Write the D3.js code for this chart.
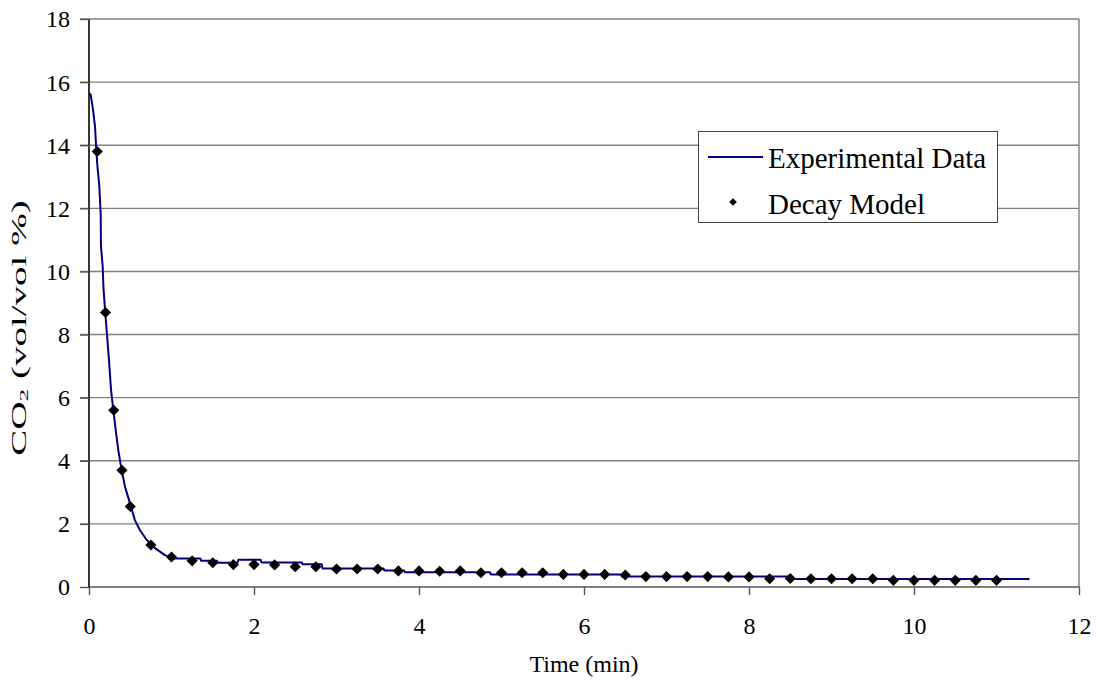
<!DOCTYPE html>
<html>
<head>
<meta charset="utf-8">
<script src="https://cdn.jsdelivr.net/npm/d3@7"></script>
<style>
  html, body { margin: 0; padding: 0; background: #fff; }
  svg { display: block; }
  text { font-family: "Liberation Serif", "Times New Roman", serif; fill: #000; }
</style>
</head>
<body>
<svg id="chart" width="1097" height="681"></svg>
<script>
// Measured CO2 concentration (time in min, CO2 in vol/vol %)
const expTime = [0, 0.02, 0.045, 0.073, 0.085, 0.10, 0.125, 0.142, 0.145, 0.166, 0.175, 0.194, 0.215, 0.242, 0.267, 0.295, 0.324, 0.355, 0.396, 0.436, 0.497, 0.556, 0.618, 0.70, 0.80, 0.92, 1.02, 1.35, 1.36, 1.55, 1.56, 1.80, 1.81, 2.08, 2.09, 2.58, 2.59, 2.82, 2.83, 3.57, 3.58, 3.82, 3.83, 4.86, 4.87, 6.45, 6.46, 8.50, 8.51, 11.4];
const expCO2  = [15.65, 15.6, 15.2, 14.6, 14.0, 13.4, 12.7, 11.8, 10.8, 10.15, 9.5, 8.8, 8.1, 7.2, 6.25, 5.6, 4.97, 4.34, 3.7, 3.18, 2.65, 2.12, 1.8, 1.49, 1.23, 1.01, 0.90, 0.90, 0.83, 0.83, 0.77, 0.77, 0.86, 0.86, 0.78, 0.78, 0.72, 0.72, 0.59, 0.59, 0.52, 0.52, 0.47, 0.47, 0.40, 0.40, 0.33, 0.33, 0.25, 0.25];

// Decay model predictions
const modelTime = [0.1, 0.2, 0.3, 0.4, 0.5, 0.75, 1.0, 1.25, 1.5, 1.75, 2.0, 2.25, 2.5, 2.75, 3.0, 3.25, 3.5, 3.75, 4.0, 4.25, 4.5, 4.75, 5.0, 5.25, 5.5, 5.75, 6.0, 6.25, 6.5, 6.75, 7.0, 7.25, 7.5, 7.75, 8.0, 8.25, 8.5, 8.75, 9.0, 9.25, 9.5, 9.75, 10.0, 10.25, 10.5, 10.75, 11.0];
const modelCO2  = [13.8, 8.7, 5.6, 3.7, 2.55, 1.33, 0.95, 0.83, 0.77, 0.71, 0.71, 0.70, 0.64, 0.64, 0.57, 0.57, 0.57, 0.51, 0.51, 0.50, 0.51, 0.45, 0.45, 0.45, 0.45, 0.40, 0.40, 0.40, 0.38, 0.33, 0.33, 0.33, 0.33, 0.32, 0.32, 0.26, 0.27, 0.26, 0.26, 0.26, 0.26, 0.21, 0.21, 0.21, 0.21, 0.21, 0.21];

const xTicks = [0, 2, 4, 6, 8, 10, 12];
const yTicks = [0, 2, 4, 6, 8, 10, 12, 14, 16, 18];
const seriesNames = ["Experimental Data", "Decay Model"];

const svg = d3.select("#chart");
const plotL = 89, plotR = 1079, plotT = 19, plotB = 587;

const x = d3.scaleLinear().domain([0, 12]).range([plotL, plotR]);
const y = d3.scaleLinear().domain([0, 18]).range([plotB, plotT]);

// horizontal gridlines (extend through tick area)
svg.append("g").selectAll("line").data(yTicks.filter(d => d > 0)).join("line")
  .attr("x1", plotL - 9).attr("x2", plotR)
  .attr("y1", d => y(d)).attr("y2", d => y(d))
  .attr("stroke", "#808080").attr("stroke-width", 1.4);

// right border of plot area
svg.append("line").attr("x1", plotR).attr("x2", plotR).attr("y1", plotT).attr("y2", plotB)
  .attr("stroke", "#808080").attr("stroke-width", 1.4);

// x axis
const xAxis = svg.append("g").attr("transform", `translate(0,${plotB})`)
  .call(d3.axisBottom(x).tickValues(xTicks).tickSize(8).tickPadding(0).tickFormat(d3.format("d")));
xAxis.select(".domain").attr("stroke", "#555").attr("stroke-width", 1.6).attr("d", `M${plotL},0H${plotR}`);
xAxis.selectAll(".tick line").attr("stroke", "#555").attr("stroke-width", 1.4);
xAxis.selectAll(".tick text").attr("font-size", 24).attr("font-family", "Liberation Serif, Times New Roman, serif")
  .attr("fill", "#000").attr("dy", null).attr("y", 47);

// y axis
const yAxis = svg.append("g").attr("transform", `translate(${plotL},0)`)
  .call(d3.axisLeft(y).tickValues(yTicks).tickSize(9).tickPadding(0).tickFormat(d3.format("d")));
yAxis.select(".domain").attr("stroke", "#222").attr("stroke-width", 1.8).attr("d", `M0,${plotT}V${plotB}`);
yAxis.selectAll(".tick line").attr("stroke", "#555").attr("stroke-width", 1.4);
yAxis.selectAll(".tick text").attr("font-size", 24).attr("font-family", "Liberation Serif, Times New Roman, serif")
  .attr("fill", "#000").attr("x", -19).attr("dy", "0.33em");

// experimental curve
const expData = expTime.map((t, i) => [t, expCO2[i]]);
svg.append("path").datum(expData)
  .attr("fill", "none").attr("stroke", "#000080").attr("stroke-width", 2)
  .attr("stroke-linejoin", "round")
  .attr("d", d3.line().x(d => x(d[0])).y(d => y(d[1])));

// model markers: squares turned 45 degrees
const diamond = d3.symbol().type(d3.symbolSquare).size(62);
svg.append("g").selectAll("path").data(modelTime.map((t, i) => [t, modelCO2[i]])).join("path")
  .attr("d", diamond)
  .attr("transform", d => `translate(${x(d[0])},${y(d[1])}) rotate(45)`)
  .attr("fill", "#000");

// legend
const lg = svg.append("g");
lg.append("rect").attr("x", 698.5).attr("y", 131.5).attr("width", 299).attr("height", 91)
  .attr("fill", "#fff").attr("stroke", "#444").attr("stroke-width", 1);
lg.append("line").attr("x1", 708).attr("x2", 763).attr("y1", 157).attr("y2", 157)
  .attr("stroke", "#000080").attr("stroke-width", 2);
lg.append("path").attr("d", d3.symbol().type(d3.symbolSquare).size(30))
  .attr("transform", "translate(733,202) rotate(45)").attr("fill", "#000");
lg.append("text").attr("x", 768).attr("y", 168).attr("font-size", 29).text(seriesNames[0]);
lg.append("text").attr("x", 768).attr("y", 214).attr("font-size", 29).text(seriesNames[1]);

// axis titles
svg.append("text").attr("x", (plotL + plotR) / 2).attr("y", 672)
  .attr("text-anchor", "middle").attr("font-size", 24).text("Time (min)");

// vertical title is drawn with elongated glyphs
const yt = svg.append("text")
  .attr("transform", `translate(26,328) rotate(-90) scale(1.95,1)`)
  .attr("text-anchor", "middle").attr("font-size", 20);
yt.append("tspan").text("CO");
yt.append("tspan").attr("font-size", 13).attr("dy", 2).text("2");
yt.append("tspan").attr("dy", -2).text(" (vol/vol %)");
</script>
</body>
</html>
